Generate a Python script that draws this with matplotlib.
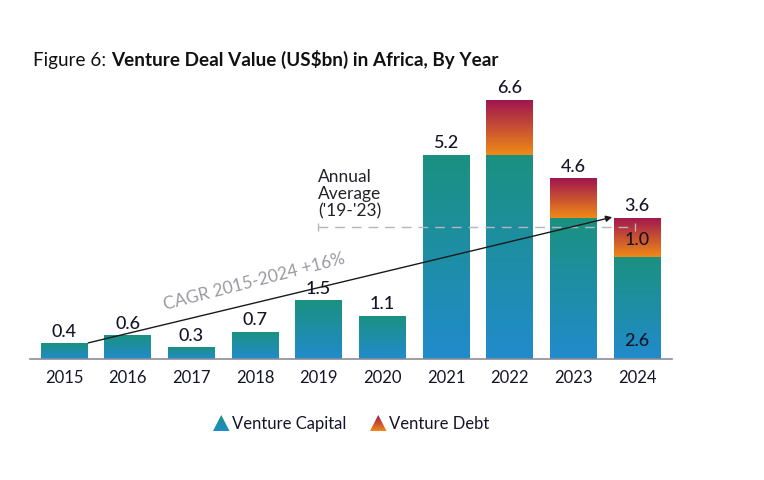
import numpy as np
import matplotlib
matplotlib.use('Agg')
import matplotlib.pyplot as plt
from matplotlib.patches import Rectangle, Polygon
from matplotlib.colors import LinearSegmentedColormap

plt.rcParams['font.family'] = ['Lato', 'DejaVu Sans']

# data
years = ['2015', '2016', '2017', '2018', '2019', '2020', '2021', '2022', '2023', '2024']
venture_capital = [0.4, 0.6, 0.3, 0.7, 1.5, 1.1, 5.2, 5.2, 3.6, 2.6]
venture_debt = [0, 0, 0, 0, 0, 0, 0, 1.4, 1.0, 1.0]
totals = [0.4, 0.6, 0.3, 0.7, 1.5, 1.1, 5.2, 6.6, 4.6, 3.6]
annual_avg = 3.35
cagr_start = (0.38, 0.41)
cagr_end = (8.61, 3.61)

navy = '#15152a'
vc_cmap = LinearSegmentedColormap.from_list('vc', ['#218bcc', '#1a9180'])
vd_cmap = LinearSegmentedColormap.from_list('vd', ['#ef8a17', '#a0154f'])
grad = np.linspace(0, 1, 256).reshape(-1, 1)

fig = plt.figure(figsize=(7.64, 4.80), dpi=100)
ax = fig.add_axes([30/764, 121/480, 642/764, 275/480])

width = 0.73
x = np.arange(len(years))


def grad_bar(ax, xc, bottom, height, cmap):
    rect = Rectangle((xc - width/2, bottom), width, height, facecolor='none',
                     edgecolor='none', zorder=2)
    ax.add_patch(rect)
    im = ax.imshow(grad, extent=[xc - width/2, xc + width/2, bottom, bottom + height],
                   origin='lower', aspect='auto', cmap=cmap, zorder=2)
    im.set_clip_path(rect)


for i in range(len(years)):
    grad_bar(ax, x[i], 0, venture_capital[i], vc_cmap)
    if venture_debt[i] > 0:
        grad_bar(ax, x[i], venture_capital[i], venture_debt[i], vd_cmap)
    ax.annotate(f'{totals[i]:.1f}', (x[i], totals[i]), xytext=(0, 2.5),
                textcoords='offset points', ha='center', va='bottom',
                fontsize=13, fontweight='medium', color=navy)

# inner labels for 2024
ax.text(x[9], venture_capital[9] + venture_debt[9]/2 - 0.07, f'{venture_debt[9]:.1f}',
        ha='center', va='center', fontsize=13, fontweight='medium', color=navy, zorder=5)
ax.text(x[9], 0.45, f'{venture_capital[9]:.1f}', ha='center', va='center',
        fontsize=13, fontweight='medium', color=navy, zorder=5)

# annual average line
ax.plot([3.99, 8.97], [annual_avg, annual_avg], color='#b5b5bd', lw=1,
        dashes=(7, 5), zorder=4)
ax.plot([3.99, 8.97], [annual_avg, annual_avg], ls='none', marker='|',
        color='#b5b5bd', ms=6, zorder=4)
ax.text(3.99, annual_avg + 0.2, "Annual\nAverage\n('19-'23)", ha='left', va='bottom',
        fontsize=12.5, color='#222228', linespacing=1.1)

# CAGR arrow
ax.annotate('', xy=cagr_end, xytext=cagr_start,
            arrowprops=dict(arrowstyle='-|>', color='#1a1a1a', lw=1,
                            mutation_scale=9, shrinkA=0, shrinkB=0), zorder=6)
ax.text(2.98, 1.96, 'CAGR 2015-2024 +16%', rotation=14.5, ha='center', va='center',
        fontsize=12.5, color='#9a9aa2', rotation_mode='anchor')

ax.set_xlim(-0.534, 9.55)
ax.set_ylim(0, 7)
ax.set_xticks(x)
ax.set_xticklabels(years, fontsize=12, color=navy)
ax.tick_params(axis='x', length=0, pad=8)
ax.set_yticks([])
for s in ['top', 'right', 'left']:
    ax.spines[s].set_visible(False)
ax.spines['bottom'].set_color('#8c8c94')
ax.spines['bottom'].set_linewidth(1.2)
ax.spines['bottom'].set_zorder(3)

# title
t1 = fig.text(33/764, 1 - 66/480, 'Figure 6: ', fontsize=13.6, color='#111111',
              va='baseline', ha='left')
fig.canvas.draw()
bb = t1.get_window_extent()
fig.text(bb.x1 / fig.bbox.width, 1 - 66/480, 'Venture Deal Value (US$bn) in Africa, By Year',
         fontsize=13.6, fontweight='bold', color='#111111', va='baseline', ha='left')

# legend
lax = fig.add_axes([0, 0, 1, 1])
lax.set_xlim(0, 764)
lax.set_ylim(480, 0)
lax.axis('off')
for x0, cmap, label in [(213, vc_cmap, 'Venture Capital'), (370, vd_cmap, 'Venture Debt')]:
    tri = Polygon([(x0, 431), (x0 + 16.5, 431), (x0 + 8.25, 415)], closed=True,
                  facecolor='none', edgecolor='none')
    lax.add_patch(tri)
    im = lax.imshow(grad, extent=[x0, x0 + 16.5, 431, 415], origin='lower',
                    aspect='auto', cmap=cmap)
    im.set_clip_path(tri)
    lax.text(x0 + 19, 424, label, fontsize=12, color=navy, va='center', ha='left')
lax.set_xlim(0, 764)
lax.set_ylim(480, 0)

fig.savefig('out.png', dpi=100, facecolor='white')
